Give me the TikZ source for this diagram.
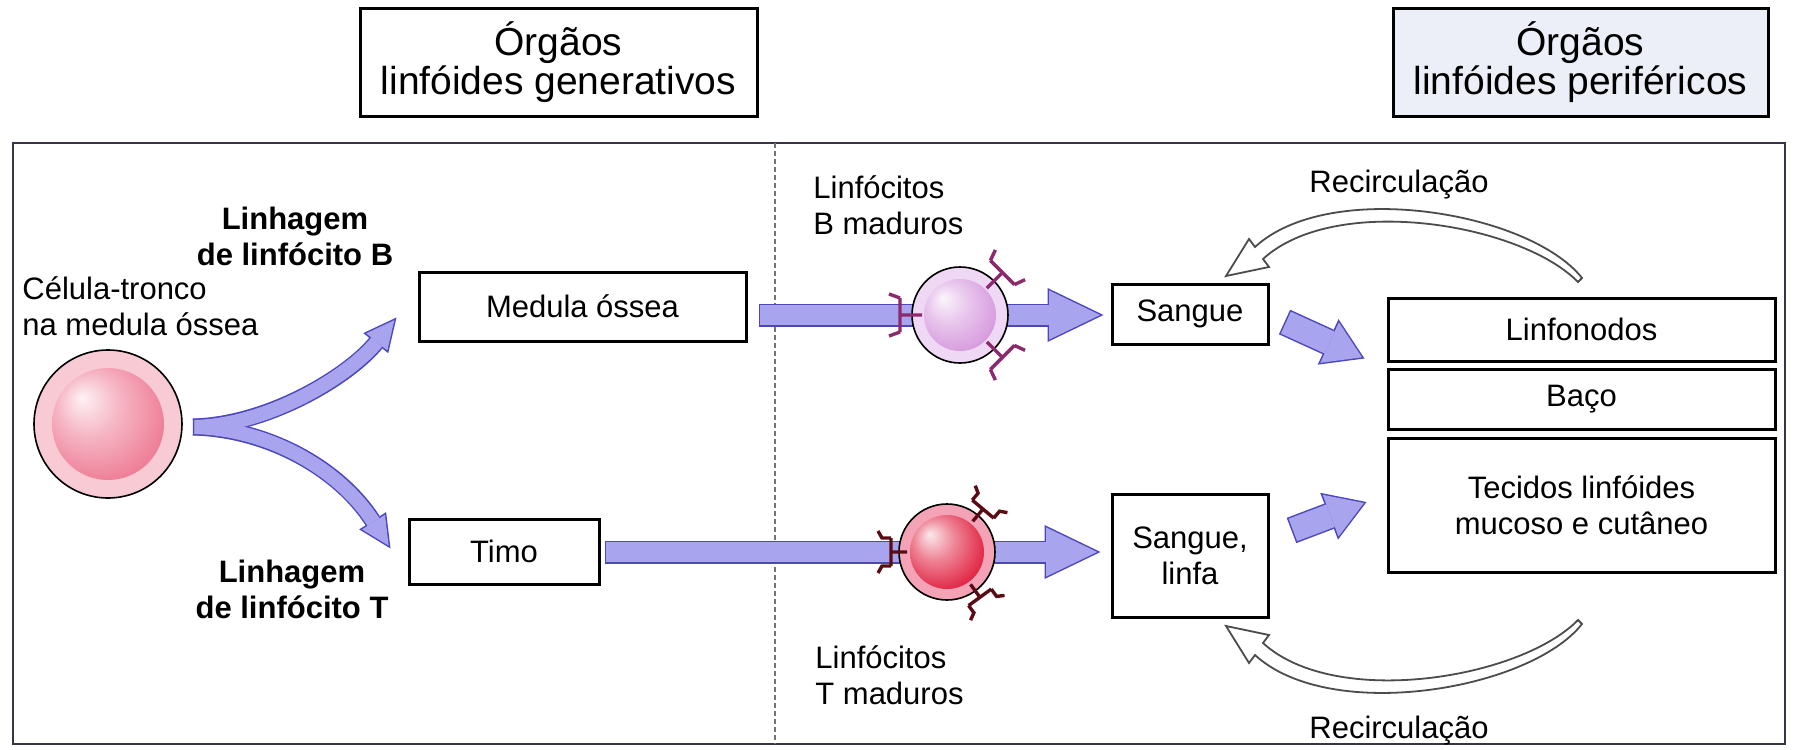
\documentclass[tikz,border=0pt]{standalone}
\usepackage{fontspec}
\setmainfont{Liberation Sans}
\usetikzlibrary{arrows.meta,calc}

\definecolor{lilas}{HTML}{A8A5EE}
\definecolor{lilasescuro}{HTML}{4D47BC}
\definecolor{azulclaro}{HTML}{ECEFF8}
\definecolor{moldura}{HTML}{3A3346}
\definecolor{anelrosa}{HTML}{F8CAD4}
\definecolor{anellilas}{HTML}{EFD8F3}
\definecolor{anelvermelho}{HTML}{F3A3B5}
\definecolor{nucleorosa}{HTML}{EE7A94}
\definecolor{nucleolilas}{HTML}{D699DE}
\definecolor{nucleovermelho}{HTML}{E0203F}
\definecolor{correceptorB}{HTML}{8C2A6E}
\definecolor{correceptorT}{HTML}{5A0C14}

% nucleo das celulas: brilho em cima a esquerda
\colorlet{corbola}{red}
\pgfdeclareradialshading[corbola]{bola}{\pgfpoint{-12bp}{12bp}}{%
  color(0bp)=(corbola!10!white); color(14bp)=(corbola!55!white);
  color(32bp)=(corbola); color(50bp)=(corbola!92!black)}

\tikzset{
  caixa/.style={draw,line width=1.5pt,inner sep=0pt},
  borda/.style n args={3}{draw=lilasescuro,line width=#1,
    -{Triangle[length=#2,width=#3,line width=0pt]}},
  miolo/.style n args={4}{draw=lilas,line width=#1,shorten <=0.75pt,shorten >=#4,
    -{Triangle[length=#2,width=#3,line width=0pt]}},
  recirc/.style={draw=black!70,line width=0.9pt,fill=white},
  anticorpoB/.style={draw=correceptorB,line width=1.7pt},
  anticorpoT/.style={draw=correceptorT,line width=1.7pt},
}

% receptores na membrana (centro, angulo)
\newcommand{\receptorb}[2]{%
  \begin{scope}[shift={(#1)},rotate=#2]
    \draw[anticorpoB] (38,0) -- (60,0) (60,-17) -- (60,17)
      (60,-17) -- (71,-21) (60,17) -- (71,21);
  \end{scope}}
\newcommand{\receptort}[2]{%
  \begin{scope}[shift={(#1)},rotate=#2]
    \draw[anticorpoT] (40,0) -- (56,0) (56,-14) -- (56,14)
      (56,-14) -- (65,-14) -- (69,-21) (56,14) -- (65,14) -- (69,21);
  \end{scope}}

% seta branca de recirculacao
\newcommand{\recirculacao}{%
  \draw[recirc] (1582,278) .. controls (1530,212) and (1330,178) .. (1255,247)
    -- (1249,239) -- (1226,276) -- (1269,267) -- (1263,259)
    .. controls (1335,193) and (1520,223) .. (1578,282) -- cycle;}

\begin{document}
\begin{tikzpicture}[x=0.5pt,y=-0.5pt]
	\tikzstyle{every node} = [align=center,font=\fontsize{15.5}{18}\selectfont]
	\useasboundingbox (0,0) rectangle (1795,750);
	
	% cabecalhos
	\node[caixa,minimum width=198.5pt,minimum height=54pt,font=\fontsize{19.5}{19.5}\selectfont]
	  (gerador) at (558.5,62) {Órgãos\\linfóides generativos};
	\node[caixa,fill=azulclaro,minimum width=187.5pt,minimum height=54pt,font=\fontsize{19.5}{19.5}\selectfont]
	  (periferico) at (1580.5,62) {Órgãos\\linfóides periféricos};
	
	\draw[moldura,line width=1pt] (13,143) rectangle (1785,744);
	\draw[black!55,line width=0.8pt,dash pattern=on 2.5pt off 1.5pt] (775,143) -- (775,744);
	
	% caixas
	\node[caixa,minimum width=163.5pt,minimum height=34.5pt] (medula) at (582.5,306.5) {Medula óssea};
	\node[caixa,minimum width=95pt,minimum height=32.5pt] (timo) at (504,551.5) {Timo};
	\node[caixa,minimum width=78pt,minimum height=30pt] (sangue) at (1190,314) {Sangue};
	\node[caixa,minimum width=78pt,minimum height=61.5pt] (sanglinfa) at (1190,555.5) {Sangue,\\linfa};
	\node[caixa,minimum width=193.5pt,minimum height=31.5pt] (linfonodos) at (1581.5,329.5) {Linfonodos};
	\node[caixa,minimum width=193.5pt,minimum height=30pt] (baco) at (1581.5,399) {Baço};
	\node[caixa,minimum width=193.5pt,minimum height=67pt] (tecidos) at (1581.5,505) {Tecidos linfóides\\mucoso e cutâneo};
	
	\coordinate (garfo) at (193,427);
	\coordinate (centroB) at (960,315);
	\coordinate (centroT) at (947,552);
	
	% setas lilases: contorno primeiro, depois o miolo
	\draw[borda={8.5pt}{16.5pt}{16pt}] (garfo) .. controls (270,425) and (350,375) .. ($(medula.west)+(-21,11)$);
	\draw[borda={8.5pt}{16.5pt}{16pt}] (garfo) .. controls (270,429) and (340,470) .. ($(timo.west)+(-17,-3)$);
	\draw[miolo={7pt}{14pt}{13.6pt}{1.7pt}] (garfo) .. controls (270,425) and (350,375) .. ($(medula.west)+(-21,11)$);
	\draw[miolo={7pt}{14pt}{13.6pt}{1.7pt}] (garfo) .. controls (270,429) and (340,470) .. ($(timo.west)+(-17,-3)$);
	
	\draw[borda={11.5pt}{28pt}{27pt}] ($(medula.east|-centroB)+(11,0)$) -- ($(sangue.west|-centroB)+(-7,0)$);
	\draw[miolo={10pt}{25.5pt}{24.6pt}{1.7pt}] ($(medula.east|-centroB)+(11,0)$) -- ($(sangue.west|-centroB)+(-7,0)$);
	\draw[borda={11.5pt}{28pt}{27pt}] ($(timo.east|-centroT)+(4,0)$) -- ($(sanglinfa.west|-centroT)+(-10,0)$);
	\draw[miolo={10pt}{25.5pt}{24.6pt}{1.7pt}] ($(timo.east|-centroT)+(4,0)$) -- ($(sanglinfa.west|-centroT)+(-10,0)$);
	
	\draw[borda={13.5pt}{20pt}{25pt}] ($(sangue.east)+(15,8)$) -- ($(linfonodos.south west)+(-22,-4)$);
	\draw[miolo={12pt}{17.8pt}{22.3pt}{1.4pt}] ($(sangue.east)+(15,8)$) -- ($(linfonodos.south west)+(-22,-4)$);
	\draw[borda={13.5pt}{20pt}{25pt}] ($(sanglinfa.east)+(22,-25)$) -- ($(tecidos.west)+(-20,-3)$);
	\draw[miolo={12pt}{17.8pt}{22.3pt}{1.4pt}] ($(sanglinfa.east)+(22,-25)$) -- ($(tecidos.west)+(-20,-3)$);
	
	% celulas
	\node[circle,draw,line width=0.8pt,fill=anelrosa,minimum size=74pt,inner sep=0pt] (tronco) at (108,424) {};
	\colorlet{corbola}{nucleorosa}
	\shade[shading=bola] (tronco.center) circle (56);
	
	\node[circle,draw,line width=0.8pt,fill=anellilas,minimum size=48pt,inner sep=0pt] (linfB) at (centroB) {};
	\colorlet{corbola}{nucleolilas}
	\shade[shading=bola] (linfB.center) circle (36);
	\receptorb{linfB.center}{180}
	\receptorb{linfB.center}{45}
	\receptorb{linfB.center}{-45}
	
	\node[circle,draw,line width=0.8pt,fill=anelvermelho,minimum size=48pt,inner sep=0pt] (linfT) at (centroT) {};
	\colorlet{corbola}{nucleovermelho}
	\shade[shading=bola] (linfT.center) circle (37);
	\receptort{linfT.center}{180}
	\receptort{linfT.center}{50}
	\receptort{linfT.center}{-54}
	
	% recirculacao
	\recirculacao
	\begin{scope}[shift={(0,902)},yscale=-1]
	  \recirculacao
	\end{scope}
	
	% textos
	\node[anchor=north west,align=left,inner sep=0pt] (txtronco) at (22,276) {Célula-tronco\\na medula óssea};
	\node[anchor=north,inner sep=0pt,font=\fontsize{15.5}{18}\selectfont\bfseries] (linhagemB) at (295,207) {Linhagem\\de linfócito B};
	\node[anchor=north,inner sep=0pt,font=\fontsize{15.5}{18}\selectfont\bfseries] (linhagemT) at (292,560) {Linhagem\\de linfócito T};
	\node[anchor=north west,align=left,inner sep=0pt] (txlinfB) at (813,175) {Linfócitos\\B maduros};
	\node[anchor=north west,align=left,inner sep=0pt] (txlinfT) at (815,645) {Linfócitos\\T maduros};
	\node[anchor=base,inner sep=0pt] (recircA) at (1399,192) {Recirculação};
	\node[anchor=base,inner sep=0pt] (recircB) at (1399,738) {Recirculação};
\end{tikzpicture}
\end{document}
